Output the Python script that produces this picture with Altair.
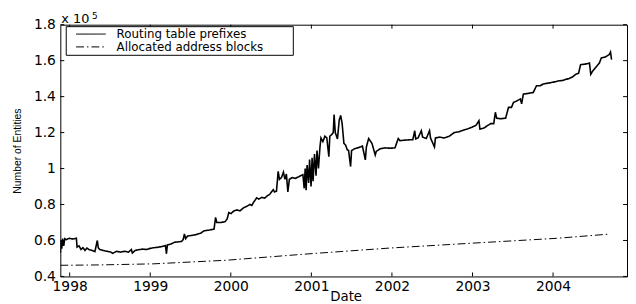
import altair as alt
import pandas as pd

# Routing table prefixes (date as fractional year, number of entries)
route_year = [1997.884, 1997.892, 1997.902, 1997.912, 1997.926, 1997.939, 1997.957, 1997.994,
              1998.043, 1998.083, 1998.092, 1998.116, 1998.141, 1998.165, 1998.190, 1998.214,
              1998.239, 1998.276, 1998.313, 1998.343, 1998.355, 1998.374, 1998.411, 1998.460,
              1998.509, 1998.533, 1998.582, 1998.631, 1998.680, 1998.729, 1998.766, 1998.778,
              1998.815, 1998.852, 1998.901, 1998.950, 1998.999, 1999.048, 1999.097, 1999.146,
              1999.189, 1999.201, 1999.213, 1999.256, 1999.301, 1999.342, 1999.391, 1999.409,
              1999.424, 1999.440, 1999.464, 1999.513, 1999.562, 1999.624, 1999.669, 1999.734,
              1999.792, 1999.811, 1999.826, 1999.881, 1999.930, 1999.955, 1999.975, 2000.004,
              2000.037, 2000.077, 2000.114, 2000.159, 2000.200, 2000.237, 2000.261, 2000.286,
              2000.322, 2000.347, 2000.384, 2000.420, 2000.457, 2000.482, 2000.527, 2000.543,
              2000.567, 2000.588, 2000.604, 2000.629, 2000.653, 2000.672, 2000.690, 2000.708,
              2000.727, 2000.763, 2000.800, 2000.849, 2000.895, 2000.911, 2000.923, 2000.935,
              2000.947, 2000.966, 2000.978, 2000.996, 2001.009, 2001.021, 2001.039, 2001.058,
              2001.070, 2001.088, 2001.107, 2001.119, 2001.143, 2001.168, 2001.192, 2001.217,
              2001.229, 2001.254, 2001.272, 2001.282, 2001.297, 2001.324, 2001.346, 2001.364,
              2001.382, 2001.404, 2001.425, 2001.446, 2001.462, 2001.487, 2001.499, 2001.536,
              2001.572, 2001.609, 2001.634, 2001.670, 2001.683, 2001.711, 2001.752, 2001.793,
              2001.805, 2001.854, 2001.915, 2001.977, 2002.038, 2002.078, 2002.099, 2002.161,
              2002.222, 2002.259, 2002.283, 2002.295, 2002.324, 2002.365, 2002.381, 2002.426,
              2002.467, 2002.479, 2002.528, 2002.540, 2002.589, 2002.651, 2002.712, 2002.773,
              2002.835, 2002.896, 2002.936, 2002.994, 2003.043, 2003.080, 2003.092, 2003.141,
              2003.190, 2003.227, 2003.264, 2003.284, 2003.300, 2003.349, 2003.411, 2003.447,
              2003.484, 2003.509, 2003.545, 2003.594, 2003.610, 2003.631, 2003.692, 2003.754,
              2003.794, 2003.839, 2003.876, 2003.938, 2003.999, 2004.060, 2004.121, 2004.158,
              2004.195, 2004.244, 2004.281, 2004.317, 2004.342, 2004.391, 2004.452, 2004.468,
              2004.489, 2004.526, 2004.575, 2004.599, 2004.648, 2004.697, 2004.713, 2004.726]
route_value = [53000, 60000, 55500, 61000, 57000, 61000, 60500, 61200,
               60800, 61200, 56300, 57000, 55000, 56000, 54500, 55800,
               55000, 54500, 53800, 60000, 56000, 55000, 54500, 54000,
               53600, 52800, 54000, 53500, 54000, 53500, 55000, 53000,
               54500, 54800, 55200, 55000, 55600, 56000, 56200, 56700,
               57200, 52600, 57500, 58000, 59000, 59200, 59500, 60500,
               63600, 61000, 62500, 62800, 63200, 64000, 65400, 65800,
               66300, 72800, 70000, 70000, 70500, 72000, 75500, 75000,
               76400, 77000, 76500, 78200, 79000, 80000, 79500, 81500,
               83700, 83000, 84000, 83500, 85000, 85600, 88300, 87000,
               87400, 98400, 94000, 95000, 98000, 94000, 97000, 87000,
               94000, 95000, 94500, 95600, 96600, 89000, 100000, 88000,
               102000, 92000, 105000, 90000, 106000, 93000, 108000, 96000,
               110000, 100000, 112000, 117000, 115000, 118000, 117000, 106600,
               118000, 119000, 120000, 130000, 120000, 116500, 127000, 129500,
               125000, 114000, 113000, 110400, 110000, 101100, 110000, 111000,
               111500, 112000, 112500, 104800, 112000, 116700, 114000, 107500,
               109500, 111000, 111500, 111300, 111500, 116700, 115500, 115800,
               116000, 116000, 121000, 116500, 117000, 121000, 117500, 116700,
               121000, 117000, 112000, 117000, 117500, 117000, 118000, 120000,
               120500, 121500, 122000, 123000, 124000, 126600, 122000, 122500,
               124000, 125000, 125000, 131300, 128000, 127700, 128000, 134000,
               134000, 136800, 137500, 138700, 136000, 141400, 141800, 142300,
               146000, 146000, 147000, 147500, 148000, 148700, 149000, 149600,
               150000, 151000, 152400, 153000, 157800, 158000, 158700, 152400,
               154000, 156000, 158700, 161500, 162000, 163400, 164800, 160600]

# Allocated address blocks
alloc_year = [1997.884, 1998.361, 1999.036, 1999.942, 2000.947, 2001.977, 2002.993, 2004.044, 2004.685]
alloc_value = [46200, 46400, 47000, 49000, 52500, 55800, 58500, 61200, 63500]

series_names = ["Routing table prefixes", "Allocated address blocks"]
x_ticks = [1998, 1999, 2000, 2001, 2002, 2003, 2004]
y_ticks = [40000, 60000, 80000, 100000, 120000, 140000, 160000, 180000]

rows = [{"series": series_names[0], "year": y, "value": v} for y, v in zip(route_year, route_value)]
rows += [{"series": series_names[1], "year": y, "value": v} for y, v in zip(alloc_year, alloc_value)]
df = pd.DataFrame(rows)

W, H = 574, 255
FONT = "DejaVu Sans"
DASHES = [[1, 0], [8, 3, 1.5, 3]]

xscale = alt.Scale(domain=[1997.884, 2004.918], nice=False, zero=False)
yscale = alt.Scale(domain=[40000, 180000], nice=False, zero=False)

x_axis = alt.Axis(values=x_ticks, format="d", title="Date", labelPadding=3,
                  labelOverlap=False, labelFlush=False,
                  titleFontSize=13.5, titleFont=FONT, titleFontWeight="normal",
                  titleBaseline="alphabetic", titleY=24, titleX=289, titleAlign="center")
y_axis = alt.Axis(values=y_ticks, labelExpr="format(datum.value / 100000, '.1~f')",
                  labelOverlap=False, labelFlush=False,
                  title="Number of Entities", labelPadding=5, titlePadding=11,
                  titleFont="Liberation Sans", titleFontSize=10.5, titleFontWeight="normal")

lines = alt.Chart(df).mark_line(color="black", clip=True).encode(
    x=alt.X("year:Q", scale=xscale, axis=x_axis),
    y=alt.Y("value:Q", scale=yscale, axis=y_axis),
    strokeDash=alt.StrokeDash("series:N",
                              scale=alt.Scale(domain=series_names, range=DASHES),
                              legend=None),
    strokeWidth=alt.StrokeWidth("series:N",
                                scale=alt.Scale(domain=series_names, range=[1.6, 1]),
                                legend=None),
    order=alt.Order("year:Q"),
)

xt = pd.DataFrame({"year": x_ticks})
yt = pd.DataFrame({"value": y_ticks})

tick_bottom = alt.Chart(xt).mark_rule(color="black").encode(
    x=alt.X("year:Q", scale=xscale, axis=x_axis), y=alt.value(H), y2=alt.value(H - 4))
tick_top = alt.Chart(xt).mark_rule(color="black").encode(
    x=alt.X("year:Q", scale=xscale, axis=x_axis), y=alt.value(0), y2=alt.value(4))
tick_left = alt.Chart(yt).mark_rule(color="black").encode(
    y=alt.Y("value:Q", scale=yscale, axis=y_axis), x=alt.value(0), x2=alt.value(4))
tick_right = alt.Chart(yt).mark_rule(color="black").encode(
    y=alt.Y("value:Q", scale=yscale, axis=y_axis), x=alt.value(W), x2=alt.value(W - 4))

exp_text = alt.Chart(pd.DataFrame({"t": ["x 10"]})).mark_text(
    align="left", baseline="alphabetic", font=FONT, fontSize=13, color="black"
).encode(text="t:N", x=alt.value(1), y=alt.value(-2))
exp_sup = alt.Chart(pd.DataFrame({"t": ["5"]})).mark_text(
    align="left", baseline="alphabetic", font=FONT, fontSize=9, color="black"
).encode(text="t:N", x=alt.value(32), y=alt.value(-6))

# Legend box (drawn by hand, Matlab style)
leg_box = alt.Chart(pd.DataFrame({"k": [0]})).mark_rect(
    fill="white", stroke="black", strokeWidth=1
).encode(x=alt.value(6), x2=alt.value(236), y=alt.value(2), y2=alt.value(31))
leg_rows = [9.5, 22.5]
leg_items = []
for name, dash, ry in zip(series_names, DASHES, leg_rows):
    leg_items.append(
        alt.Chart(pd.DataFrame({"series": [name]})).mark_rule(
            color="black", strokeWidth=1, strokeDash=dash
        ).encode(x=alt.value(16), x2=alt.value(46), y=alt.value(ry))
    )
    leg_items.append(
        alt.Chart(pd.DataFrame({"series": [name]})).mark_text(
            align="left", baseline="middle", font=FONT, fontSize=12, color="black"
        ).encode(text="series:N", x=alt.value(57), y=alt.value(ry))
    )

chart = alt.layer(lines, tick_bottom, tick_top, tick_left, tick_right, exp_text, exp_sup,
                  leg_box, *leg_items).properties(
    width=W, height=H,
    autosize=alt.AutoSizeParams(type="none"),
    padding={"left": 53, "top": 15, "right": 1, "bottom": 26},
    background="white",
).configure_view(stroke="black", strokeWidth=1).configure_axis(
    labelFont=FONT, labelFontSize=14, labelColor="black", titleColor="black",
    domain=False, ticks=False, grid=False, labelFlush=False, labelOverlap=False,
)

chart.save("out.html", embed_options={"renderer": "svg", "actions": False})
